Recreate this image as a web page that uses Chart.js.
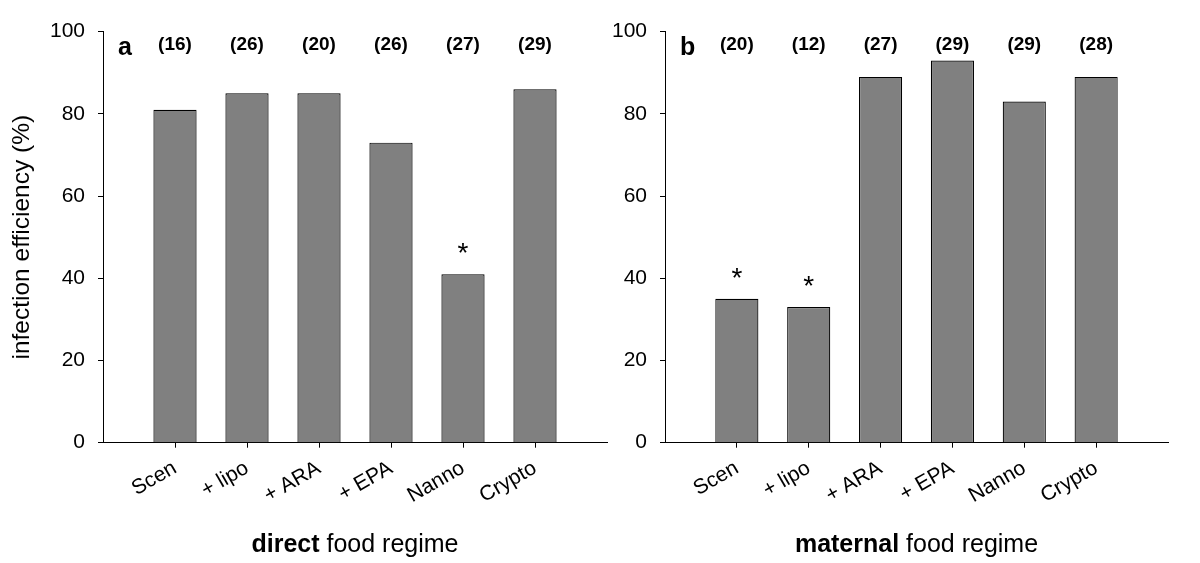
<!DOCTYPE html>
<html>
<head>
<meta charset="utf-8">
<script src="https://cdn.jsdelivr.net/npm/chart.js@4"></script>
<style>
  body { margin: 0; background: #fff; }
  canvas { position: absolute; top: 0; }
  #chartA { left: 0; }
  #chartB { left: 610px; }
</style>
</head>
<body>
<canvas id="chartA" width="610" height="563"></canvas>
<canvas id="chartB" width="590" height="563"></canvas>
<script>
const categories = ["Scen", "+ lipo", "+ ARA", "+ EPA", "Nanno", "Crypto"]
const directValues = [81, 85, 85, 73, 41, 86]
const maternalValues = [35, 33, 89, 93, 83, 89]
const directCounts = ["(16)", "(26)", "(20)", "(26)", "(27)", "(29)"]
const maternalCounts = ["(20)", "(12)", "(27)", "(29)", "(29)", "(28)"]
const directStars = [false, false, false, false, true, false]
const maternalStars = [true, true, false, false, false, false]
const yTicks = [0, 20, 40, 60, 80, 100]

const FONT = "'Liberation Sans', Arial, sans-serif"

// counts, asterisks, panel letter and the half-bold axis title
const annot = {
  id: "annot",
  afterDatasetsDraw(chart, args, o) {
    const { ctx, chartArea, scales: { x, y } } = chart
    const data = chart.data.datasets[0].data
    ctx.save()
    ctx.fillStyle = "#000"

    ctx.textAlign = "center"
    ctx.textBaseline = "middle"
    ctx.font = `bold 19px ${FONT}`
    o.counts.forEach((c, i) => ctx.fillText(c, x.getPixelForValue(i + 1), chartArea.top + 13))

    ctx.textBaseline = "alphabetic"
    ctx.font = `28px ${FONT}`
    o.stars.forEach((s, i) => {
      if (!s) return
      const top = y.getPixelForValue(data[i].y)
      ctx.fillText("*", x.getPixelForValue(i + 1), top - 12)
    })

    ctx.textAlign = "left"
    ctx.font = `bold 25px ${FONT}`
    ctx.fillText(o.letter, chartArea.left + 15, chartArea.top + 23)

    const boldPart = o.bold + " "
    const w1 = ctx.measureText(boldPart).width
    ctx.font = `25px ${FONT}`
    const w2 = ctx.measureText(o.rest).width
    const cx = (chartArea.left + chartArea.right) / 2
    const start = cx - (w1 + w2) / 2
    const base = chart.height - 11
    ctx.font = `bold 25px ${FONT}`
    ctx.fillText(boldPart, start, base)
    ctx.font = `25px ${FONT}`
    ctx.fillText(o.rest, start + w1, base)
    ctx.restore()
  }
}

function makeChart(id, values, counts, stars, letter, bold, yWidth, padRight, showTitle) {
  return new Chart(document.getElementById(id), {
    type: "bar",
    data: {
      datasets: [{
        data: values.map((v, i) => ({ x: i + 1, y: v })),
        backgroundColor: "#808080",
        borderColor: "#000",
        borderWidth: 1.2,
        barPercentage: 0.6,
        categoryPercentage: 1
      }]
    },
    options: {
      responsive: false,
      animation: false,
      layout: { padding: { left: 0, right: padRight, top: 31.7, bottom: 0 } },
      plugins: {
        legend: { display: false },
        tooltip: { enabled: false },
        annot: { counts: counts, stars: stars, letter: letter, bold: bold, rest: "food regime" }
      },
      scales: {
        x: {
          type: "linear",
          min: 0,
          max: 7,
          offset: false,
          afterBuildTicks: s => { s.ticks = categories.map((c, i) => ({ value: i + 1 })) },
          afterFit: s => { s.height = 120.3 },
          ticks: {
            callback: v => categories[v - 1],
            autoSkip: false,
            minRotation: 30,
            maxRotation: 30,
            padding: 8,
            color: "#000",
            font: { size: 21, family: FONT }
          },
          grid: { offset: false, drawOnChartArea: false, tickLength: 5, tickColor: "#000" },
          border: { color: "#000", width: 1 }
        },
        y: {
          min: 0,
          max: 100,
          afterBuildTicks: s => { s.ticks = yTicks.map(v => ({ value: v })) },
          afterFit: s => { s.width = yWidth },
          ticks: { padding: 13, color: "#000", font: { size: 21, family: FONT } },
          grid: { drawOnChartArea: false, tickLength: 5, tickColor: "#000" },
          border: { color: "#000", width: 1 },
          title: {
            display: showTitle,
            text: "infection efficiency (%)",
            color: "#000",
            font: { size: 24.5, family: FONT },
            padding: { top: 8, bottom: 0 }
          }
        }
      }
    },
    plugins: [annot]
  })
}

makeChart("chartA", directValues, directCounts, directStars, "a", "direct", 103, 3, true)
makeChart("chartB", maternalValues, maternalCounts, maternalStars, "b", "maternal", 55, 32, false)
</script>
</body>
</html>
